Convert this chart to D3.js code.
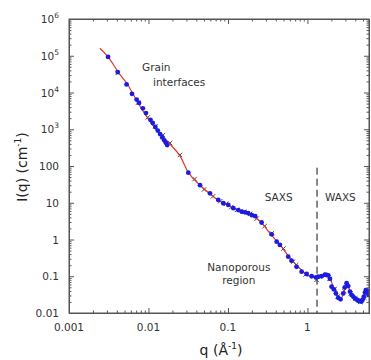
<!DOCTYPE html>
<html>
<head>
<meta charset="utf-8">
<script src="https://cdn.jsdelivr.net/npm/d3@7"></script>
<style>
  body { margin: 0; background: #fff; }
  svg { display: block; font-family: "DejaVu Sans", sans-serif; }
</style>
</head>
<body>
<div id="chart"></div>
<script>
// fitted curve (red line)
const qFit = [0.00245, 0.0031, 0.0042, 0.0054, 0.0074, 0.0102, 0.0148, 0.0187, 0.025, 0.0316, 0.0447, 0.059,
  0.079, 0.106, 0.141, 0.19, 0.229, 0.27, 0.34, 0.45, 0.6, 0.81, 1.0, 1.23, 1.45, 1.75, 1.9, 2.05, 2.3, 2.6,
  2.85, 3.1, 3.3, 3.6, 4.0, 4.5, 4.9, 5.2, 5.5, 6.0];
const iFit = [1.6e5, 9.3e4, 3.5e4, 1.7e4, 5.2e3, 1.75e3, 6.5e2, 3.9e2, 1.85e2, 68, 30, 17.6,
  11, 8.0, 6.0, 4.7, 3.8, 2.7, 1.45, 0.72, 0.32, 0.16, 0.108, 0.092, 0.097, 0.104, 0.095, 0.062, 0.036, 0.024,
  0.034, 0.062, 0.05, 0.03, 0.024, 0.021, 0.021, 0.028, 0.042, 0.033];

// measured points (blue dots)
const qBlue = [0.0031, 0.0041, 0.0053, 0.0062, 0.0071, 0.0076, 0.0085, 0.0093, 0.0106, 0.0113, 0.0122, 0.0131,
  0.014, 0.0149, 0.0158, 0.0165, 0.0172, 0.0317, 0.0445, 0.0594, 0.0755, 0.0873, 0.101, 0.117, 0.135, 0.149, 0.164,
  0.18, 0.2, 0.22, 0.265, 0.355, 0.41, 0.45, 0.573, 0.63, 0.73, 0.845, 0.977, 1.13, 1.28, 1.37, 1.51, 1.66, 1.74,
  1.83, 1.92, 2.01, 2.15, 2.28, 2.44, 2.61, 2.82, 2.95, 3.11, 3.26, 3.43, 3.6, 3.77, 3.95, 4.15, 4.3, 4.48, 4.63,
  4.79, 4.95, 5.13, 5.3, 5.43, 5.62, 5.82, 5.95];
const iBlue = [9.3e4, 3.6e4, 1.66e4, 9.2e3, 6.4e3, 5.2e3, 3.7e3, 2.75e3, 1.8e3, 1.48e3, 1.15e3, 920,
  740, 600, 500, 430, 370, 66, 30, 18, 11.9, 9.7, 8.7, 7.1, 6.3, 5.7, 5.5,
  5.2, 4.6, 4.3, 2.9, 1.38, 0.87, 0.71, 0.34, 0.265, 0.18, 0.133, 0.115, 0.1, 0.093, 0.097, 0.1, 0.11, 0.108,
  0.106, 0.085, 0.052, 0.044, 0.034, 0.026, 0.0236, 0.034, 0.05, 0.065, 0.054, 0.038, 0.031, 0.028, 0.025, 0.0236, 0.022, 0.0213, 0.021,
  0.0204, 0.023, 0.028, 0.036, 0.042, 0.04, 0.034, 0.031];

// second data set (crosses)
const qCross = [0.0041, 0.0074, 0.0098, 0.0122, 0.0152, 0.0187, 0.0249, 0.038, 0.05, 0.065, 0.08, 0.095, 0.11,
  0.13, 0.16, 0.19, 0.23, 0.29, 0.355, 0.5, 0.66, 0.72, 0.95, 1.3, 1.9, 2.2, 2.4, 2.9, 3.5, 4.0, 4.6, 5.2, 5.9];
const iCross = [3.4e4, 5.3e3, 2.1e3, 1.2e3, 690, 420, 200, 44, 23, 15, 11, 9.4, 7.6,
  6.4, 5.7, 5.0, 3.7, 2.33, 1.47, 0.57, 0.25, 0.2, 0.112, 0.08, 0.085, 0.045, 0.028, 0.04, 0.034, 0.025, 0.02, 0.026, 0.03];

const xTicks = [0.001, 0.01, 0.1, 1];
const xTickLabels = ["0.001", "0.01", "0.1", "1"];
const yTicks = [0.01, 0.1, 1, 10, 100, 1e3, 1e4, 1e5, 1e6];
const yTickBase = ["0.01", "0.1", "1", "10", "100", "10", "10", "10", "10"];
const yTickExp = ["", "", "", "", "", "3", "4", "5", "6"];

const qBoundary = 1.32;
const notes = [
  { text: "Grain", q: 0.0083, i: 3.8e4, anchor: "start" },
  { text: "interfaces", q: 0.0114, i: 1.5e4, anchor: "start" },
  { text: "SAXS", q: 0.29, i: 11.2, anchor: "start" },
  { text: "WAXS", q: 1.66, i: 11.2, anchor: "start" },
  { text: "Nanoporous", q: 0.137, i: 0.139, anchor: "middle" },
  { text: "region", q: 0.137, i: 0.062, anchor: "middle" }
];

const width = 371, height = 360;
const margin = { top: 19, right: 2, bottom: 47, left: 69 };

const x = d3.scaleLog().domain([0.001, 5.95]).range([margin.left, width - margin.right]);
const y = d3.scaleLog().domain([0.01, 1e6]).range([height - margin.bottom, margin.top]);

function minors(lo, hi) {
  const out = [];
  for (let e = Math.floor(Math.log10(lo)); e < Math.ceil(Math.log10(hi)); e++) {
    for (let k = 2; k <= 9; k++) {
      const v = k * Math.pow(10, e);
      if (v > lo && v < hi) out.push(v);
    }
  }
  return out;
}
const xMinor = minors(0.001, 5.95);
const yMinor = minors(0.01, 1e6);

const svg = d3.select("#chart").append("svg")
  .attr("width", width)
  .attr("height", height);

svg.append("clipPath").attr("id", "plot")
  .append("rect")
  .attr("x", margin.left).attr("y", margin.top)
  .attr("width", width - margin.right - margin.left)
  .attr("height", height - margin.bottom - margin.top);

const axisColor = "#555";

function drawAxis(gen, tx, ty, values, size) {
  const g = svg.append("g")
    .attr("transform", `translate(${tx},${ty})`)
    .call(gen.tickValues(values).tickSize(size).tickFormat(""));
  g.select(".domain").attr("stroke", axisColor);
  g.selectAll(".tick line").attr("stroke", axisColor);
  return g;
}

// ticks point inward on all four sides
const bottom = height - margin.bottom, right = width - margin.right;
drawAxis(d3.axisBottom(x), 0, bottom, xTicks, -5);
drawAxis(d3.axisBottom(x), 0, bottom, xMinor, -2.5);
drawAxis(d3.axisTop(x), 0, margin.top, xTicks, -5);
drawAxis(d3.axisTop(x), 0, margin.top, xMinor, -2.5);
drawAxis(d3.axisLeft(y), margin.left, 0, yTicks, -5);
drawAxis(d3.axisLeft(y), margin.left, 0, yMinor, -2.5);
drawAxis(d3.axisRight(y), right, 0, yTicks, -5);
drawAxis(d3.axisRight(y), right, 0, yMinor, -2.5);

// tick labels
svg.append("g").selectAll("text")
  .data(xTicks)
  .join("text")
  .attr("x", d => x(d))
  .attr("y", bottom + 18)
  .attr("text-anchor", "middle")
  .attr("font-size", 10.5)
  .attr("fill", "#333")
  .text((d, i) => xTickLabels[i]);

const yl = svg.append("g").selectAll("text")
  .data(yTicks)
  .join("text")
  .attr("x", margin.left - 10)
  .attr("y", d => y(d) + 4)
  .attr("text-anchor", "end")
  .attr("font-size", 10.5)
  .attr("fill", "#333");
yl.append("tspan").text((d, i) => yTickBase[i]);
yl.append("tspan")
  .attr("dy", -5)
  .attr("font-size", 7.5)
  .text((d, i) => yTickExp[i]);

// axis titles
const xt = svg.append("text")
  .attr("x", 221)
  .attr("y", 355)
  .attr("text-anchor", "middle")
  .attr("font-size", 14)
  .attr("fill", "#222");
xt.append("tspan").text("q  (Å");
xt.append("tspan").attr("dy", -6).attr("font-size", 9).text("-1");
xt.append("tspan").attr("dy", 6).text(")");

const yt = svg.append("text")
  .attr("transform", "translate(27,167) rotate(-90)")
  .attr("text-anchor", "middle")
  .attr("font-size", 14)
  .attr("fill", "#222");
yt.append("tspan").text("I(q)  (cm");
yt.append("tspan").attr("dy", -6).attr("font-size", 9).text("-1");
yt.append("tspan").attr("dy", 6).text(")");

const plot = svg.append("g").attr("clip-path", "url(#plot)");

// SAXS / WAXS boundary
plot.append("line")
  .attr("x1", x(qBoundary)).attr("x2", x(qBoundary))
  .attr("y1", y(90)).attr("y2", bottom)
  .attr("stroke", "#111")
  .attr("stroke-width", 1)
  .attr("stroke-dasharray", "7,4");

// crosses
const cs = 2.2;
plot.append("g").selectAll("path")
  .data(qCross.map((q, i) => [q, iCross[i]]))
  .join("path")
  .attr("d", d => {
    const px = x(d[0]), py = y(d[1]);
    return `M${px - cs},${py - cs}L${px + cs},${py + cs}M${px - cs},${py + cs}L${px + cs},${py - cs}`;
  })
  .attr("stroke", "#444")
  .attr("stroke-width", 1);

// fitted line
const line = d3.line()
  .curve(d3.curveMonotoneX)
  .x(d => x(d[0]))
  .y(d => y(d[1]));

plot.append("path")
  .datum(qFit.map((q, i) => [q, iFit[i]]))
  .attr("fill", "none")
  .attr("stroke", "#e8322c")
  .attr("stroke-width", 1.2)
  .attr("d", line);

// blue dots
plot.append("g").selectAll("circle")
  .data(qBlue.map((q, i) => [q, iBlue[i]]))
  .join("circle")
  .attr("cx", d => x(d[0]))
  .attr("cy", d => y(d[1]))
  .attr("r", 2.4)
  .attr("fill", "#1c1ce0");

// frame
svg.append("rect")
  .attr("x", margin.left).attr("y", margin.top)
  .attr("width", right - margin.left)
  .attr("height", bottom - margin.top)
  .attr("fill", "none")
  .attr("stroke", axisColor);

// annotations
svg.append("g").selectAll("text")
  .data(notes)
  .join("text")
  .attr("x", d => x(d.q))
  .attr("y", d => y(d.i))
  .attr("text-anchor", d => d.anchor)
  .attr("font-size", 10.5)
  .attr("fill", "#333")
  .text(d => d.text);
</script>
</body>
</html>
